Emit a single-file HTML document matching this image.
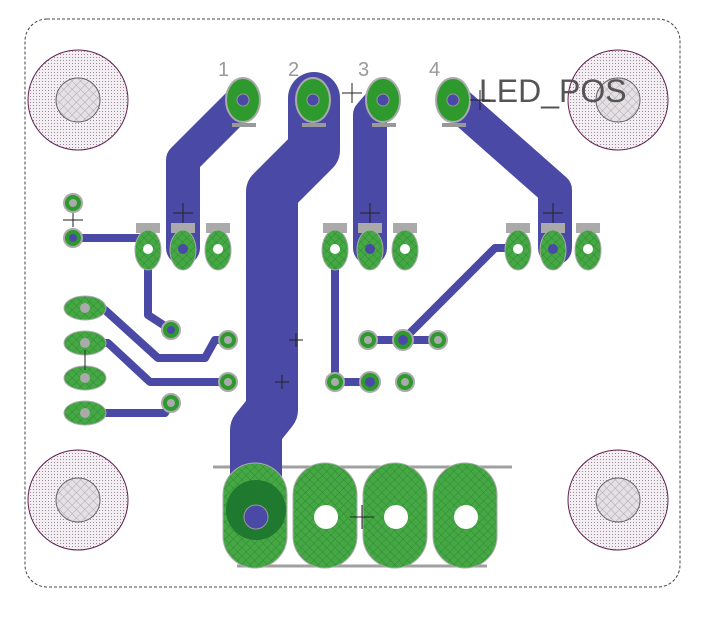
<!DOCTYPE html>
<html><head><style>body{margin:0;background:#fff}svg{display:block}</style></head><body>
<svg width="726" height="634" viewBox="0 0 726 634" xmlns="http://www.w3.org/2000/svg" font-family="Liberation Sans, sans-serif">
<defs>
<pattern id="dots" width="3" height="3" patternUnits="userSpaceOnUse"><rect width="3" height="3" fill="#f2eef2"/><rect width="1" height="1" fill="#9a8a9a"/></pattern>
<pattern id="hatch" width="6" height="6" patternUnits="userSpaceOnUse" patternTransform="rotate(45)"><rect width="6" height="6" fill="#45a845"/><line x1="0" y1="0" x2="0" y2="6" stroke="#2f8a2f" stroke-width="1"/><line x1="0" y1="0" x2="6" y2="0" stroke="#2f8a2f" stroke-width="1"/></pattern>
<pattern id="ghatch" width="6" height="6" patternUnits="userSpaceOnUse" patternTransform="rotate(45)"><rect width="6" height="6" fill="#e4e0e4"/><line x1="0" y1="0" x2="0" y2="6" stroke="#b0a8b0" stroke-width="1"/><line x1="0" y1="0" x2="6" y2="0" stroke="#b0a8b0" stroke-width="1"/></pattern>
</defs>
<rect x="25" y="19" width="655" height="568" rx="22" fill="none" stroke="#444" stroke-width="1" stroke-dasharray="3,2"/>
<g stroke="#602050" stroke-width="1">
<circle cx="78" cy="100" r="50" fill="url(#dots)"/><circle cx="618" cy="100" r="50" fill="url(#dots)"/>
<circle cx="78" cy="500" r="50" fill="url(#dots)"/><circle cx="618" cy="500" r="50" fill="url(#dots)"/>
</g>
<g fill="url(#ghatch)" stroke="#666">
<circle cx="78" cy="100" r="22"/><circle cx="618" cy="100" r="22"/><circle cx="78" cy="500" r="22"/><circle cx="618" cy="500" r="22"/>
</g>
<line x1="213" y1="467" x2="512" y2="467" stroke="#a0a0a0" stroke-width="3"/>
<line x1="237" y1="566" x2="487" y2="566" stroke="#a0a0a0" stroke-width="3"/>
<g fill="none" stroke="#4a4aa6" stroke-linejoin="round" stroke-linecap="round">
<polyline points="243,100 183,160 183,248" stroke-width="34"/>
<polyline points="314,98 314,150 272,192 272,410 256,430 256,515" stroke-width="52"/>
<polyline points="383,100 370,115 370,248" stroke-width="34"/>
<polyline points="453,100 555,190 555,248" stroke-width="34"/>
</g>
<g fill="none" stroke="#4a4aa6" stroke-width="8" stroke-linejoin="round">
<polyline points="73,238 140,238"/>
<polyline points="148,248 148,315 171,330"/>
<polyline points="85,308 105,310 158,358 205,358 215,340 228,340"/>
<polyline points="85,343 108,343 150,382 228,382"/>
<polyline points="85,413 165,413 171,403"/>
<polyline points="335,248 335,382 370,382"/>
<polyline points="518,248 495,248 403,340"/>
<polyline points="368,340 438,340"/>
</g>
<g>
<g fill="#2e9a2e" stroke="#aaa" stroke-width="2">
<ellipse cx="243" cy="100" rx="17" ry="22"/><ellipse cx="313" cy="100" rx="17" ry="22"/><ellipse cx="383" cy="100" rx="17" ry="22"/><ellipse cx="453" cy="100" rx="17" ry="22"/>
</g>
<g fill="#4a4aa6" stroke="#999"><circle cx="243" cy="100" r="6"/><circle cx="313" cy="100" r="6"/><circle cx="383" cy="100" r="6"/><circle cx="453" cy="100" r="6"/></g>
<g fill="#999"><rect x="232" y="123" width="24" height="4"/><rect x="302" y="123" width="24" height="4"/><rect x="372" y="123" width="24" height="4"/><rect x="442" y="123" width="24" height="4"/></g>
</g>
<g fill="#999" font-size="20"><text x="218" y="76">1</text><text x="288" y="76">2</text><text x="358" y="76">3</text><text x="429" y="76">4</text></g>
<text x="479" y="102" font-size="32" fill="#555">LED_POS</text>
<g fill="#aaa">
<rect x="136" y="223" width="24" height="10"/><rect x="171" y="223" width="24" height="10"/><rect x="206" y="223" width="24" height="10"/>
<rect x="323" y="223" width="24" height="10"/><rect x="358" y="223" width="24" height="10"/><rect x="393" y="223" width="24" height="10"/>
<rect x="506" y="223" width="24" height="10"/><rect x="541" y="223" width="24" height="10"/><rect x="576" y="223" width="24" height="10"/>
</g>
<g fill="url(#hatch)" stroke="#aaa" stroke-width="1">
<ellipse cx="148" cy="250" rx="13" ry="20"/><ellipse cx="183" cy="250" rx="13" ry="20"/><ellipse cx="218" cy="250" rx="13" ry="20"/>
<ellipse cx="335" cy="250" rx="13" ry="20"/><ellipse cx="370" cy="250" rx="13" ry="20"/><ellipse cx="405" cy="250" rx="13" ry="20"/>
<ellipse cx="518" cy="250" rx="13" ry="20"/><ellipse cx="553" cy="250" rx="13" ry="20"/><ellipse cx="588" cy="250" rx="13" ry="20"/>
</g>
<g fill="#fff"><circle cx="148" cy="249" r="5"/><circle cx="218" cy="249" r="5"/><circle cx="335" cy="249" r="5"/><circle cx="405" cy="249" r="5"/><circle cx="518" cy="249" r="5"/><circle cx="588" cy="249" r="5"/></g>
<g fill="#4a4aa6"><circle cx="183" cy="249" r="5"/><circle cx="370" cy="249" r="5"/><circle cx="553" cy="249" r="5"/></g>
<g fill="url(#hatch)" stroke="#aaa"><ellipse cx="85" cy="308" rx="21" ry="12"/><ellipse cx="85" cy="343" rx="21" ry="12"/><ellipse cx="85" cy="378" rx="21" ry="12"/><ellipse cx="85" cy="413" rx="21" ry="12"/></g>
<g fill="#aaa"><circle cx="85" cy="308" r="5"/><circle cx="85" cy="343" r="5"/><circle cx="85" cy="378" r="5"/><circle cx="85" cy="413" r="5"/></g>
<g fill="#2e9a2e" stroke="#aaa" stroke-width="2">
<circle cx="73" cy="203" r="9"/><circle cx="73" cy="238" r="9"/>
<circle cx="171" cy="330" r="9"/><circle cx="228" cy="340" r="9"/><circle cx="228" cy="382" r="9"/><circle cx="171" cy="403" r="9"/>
<circle cx="368" cy="340" r="9"/><circle cx="403" cy="340" r="10"/><circle cx="438" cy="340" r="9"/>
<circle cx="335" cy="382" r="9"/><circle cx="370" cy="382" r="10"/><circle cx="405" cy="382" r="9"/>
</g>
<g fill="#aaa"><circle cx="73" cy="203" r="4"/><circle cx="228" cy="340" r="4"/><circle cx="228" cy="382" r="4"/><circle cx="171" cy="403" r="4"/><circle cx="368" cy="340" r="4"/><circle cx="438" cy="340" r="4"/><circle cx="405" cy="382" r="4"/><circle cx="335" cy="382" r="4"/></g>
<g fill="#4a4aa6"><circle cx="73" cy="238" r="4"/><circle cx="171" cy="330" r="4"/><circle cx="403" cy="340" r="5"/><circle cx="370" cy="382" r="5"/></g>
<g fill="url(#hatch)" stroke="#aaa">
<rect x="223" y="463" width="64" height="105" rx="32"/><rect x="293" y="463" width="64" height="105" rx="32"/><rect x="363" y="463" width="64" height="105" rx="32"/><rect x="433" y="463" width="64" height="105" rx="32"/>
</g>
<circle cx="256" cy="510" r="30" fill="#1f7a2f"/>
<circle cx="256" cy="517" r="12" fill="#4a4aa6" stroke="#999"/>
<g fill="#fff"><circle cx="326" cy="517" r="12"/><circle cx="396" cy="517" r="12"/><circle cx="466" cy="517" r="12"/></g>
<g stroke="#222" stroke-width="1">
<path d="M173 213h20M183 203v20M360 213h20M370 203v20M543 213h20M553 203v20M342 93h20M352 83v20M289 340h14M296 333v14M275 382h14M282 375v14M350 517h24M362 505v24M470 100h20M480 90v20M63 220h20M73 213v14M85 350v20"/>
</g>
</svg>
</body></html>
